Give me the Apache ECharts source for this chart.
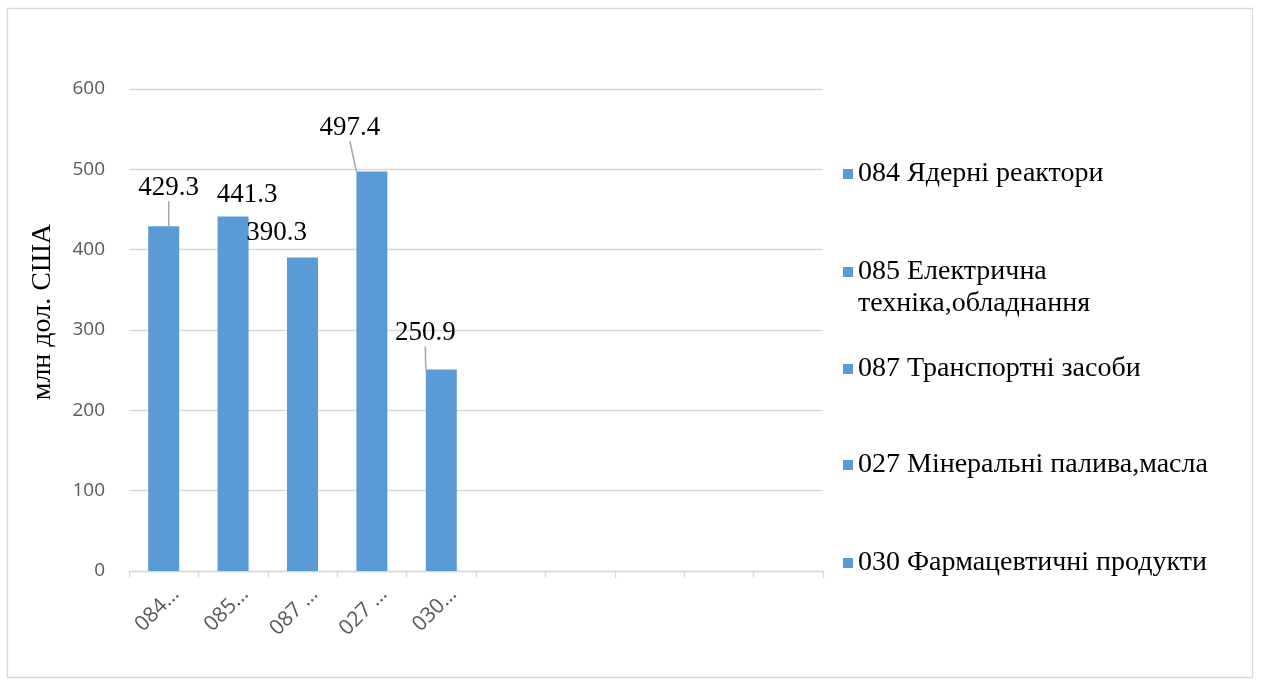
<!DOCTYPE html>
<html>
<head>
<meta charset="utf-8">
<script src="https://cdn.jsdelivr.net/npm/echarts@6/dist/echarts.min.js"></script>
<style>
  html, body { margin: 0; padding: 0; background: #fff; }
  #main { width: 1261px; height: 686px; }
</style>
</head>
<body>
<div id="main"></div>
<script>
// tick labels on the category axis (5 filled slots, 5 empty ones like the original)
var tickLabels = ['084…', '085…', '087 …', '027 …', '030…', '', '', '', '', ''];
var names = [
    '084 Ядерні реактори',
    '085 Електрична\nтехніка,обладнання',
    '087 Транспортні засоби',
    '027 Мінеральні палива,масла',
    '030 Фармацевтичні продукти'
];
var values = [429.3, 441.3, 390.3, 497.4, 250.9];

// label offsets (px) and whether a leader line is drawn
var labelShift = [[5, -20], [14, -3], [-26, -6], [-22, -25], [-16, -18]];
var leader = [true, false, false, true, true];
// vertical position of each legend entry
var legendTop = [153, 219, 348, 444, 542];

var blue = '#5b9bd5';
var serif = '"Liberation Serif", "Times New Roman", serif';
var sans = '"Open Sans", "Liberation Sans", sans-serif';

var series = [];
var legends = [];
for (var i = 0; i < values.length; i++) {
    var d = tickLabels.map(function () { return '-'; });
    d[i] = values[i];
    series.push({
        name: names[i],
        type: 'bar',
        stack: 'all',
        barWidth: 31,
        animation: false,
        color: blue,
        data: d,
        label: {
            show: true,
            position: 'top',
            distance: 5,
            color: '#000',
            fontFamily: serif,
            fontSize: 27
        },
        labelLayout: { dx: labelShift[i][0], dy: labelShift[i][1] },
        labelLine: {
            show: leader[i],
            lineStyle: { color: '#a6a6a6', width: 1.5 }
        }
    });
    legends.push({
        data: [names[i]],
        orient: 'vertical',
        left: 838,
        top: legendTop[i],
        icon: 'rect',
        itemWidth: 10,
        itemHeight: 10,
        itemGap: 0,
        selectedMode: false,
        // two-line entry: a blank first line keeps the square beside the first text line
        formatter: i === 1 ? function (n) { return '\n' + n; } : '{name}',
        textStyle: {
            color: '#000',
            fontFamily: serif,
            fontSize: 28,
            lineHeight: 32
        }
    });
}

var option = {
    backgroundColor: '#fff',
    graphic: [{
        type: 'rect',
        shape: { x: 7.5, y: 8.5, width: 1245, height: 669 },
        style: { fill: 'none', stroke: '#d9d9d9', lineWidth: 1.3 },
        silent: true
    }],
    grid: {
        left: 129,
        right: 438,
        top: 89,
        bottom: 115
    },
    legend: legends,
    xAxis: {
        type: 'category',
        data: tickLabels,
        axisLine: { lineStyle: { color: '#d9d9d9', width: 1.3 } },
        axisTick: { show: true, length: 7, lineStyle: { color: '#d9d9d9', width: 1.3 } },
        axisLabel: {
            interval: 0,
            rotate: 45,
            margin: 8,
            align: 'right',
            verticalAlign: 'top',
            lineHeight: 34,
            color: '#595959',
            fontFamily: sans,
            fontSize: 21
        }
    },
    yAxis: {
        type: 'value',
        min: 0,
        max: 600,
        interval: 100,
        name: 'млн дол. США',
        nameLocation: 'middle',
        nameGap: 72,
        nameTextStyle: {
            color: '#000',
            fontFamily: serif,
            fontSize: 28,
            padding: [0, 0, 0, 36]
        },
        axisLine: { show: false },
        axisTick: { show: false },
        axisLabel: {
            margin: 24,
            color: '#595959',
            fontFamily: sans,
            fontSize: 19
        },
        splitLine: { lineStyle: { color: '#d9d9d9', width: 1.3 } }
    },
    series: series
};

echarts.init(document.getElementById('main')).setOption(option);
</script>
</body>
</html>
